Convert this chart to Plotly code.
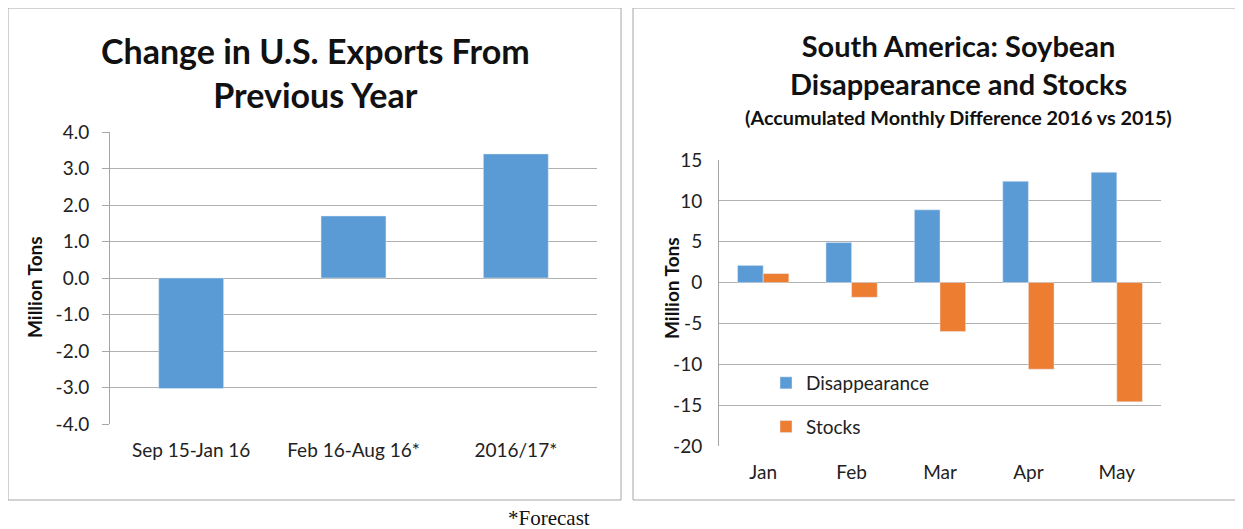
import plotly.graph_objects as go

# Left chart data
export_periods = ["Sep 15-Jan 16", "Feb 16-Aug 16*", "2016/17*"]
export_change = [-3.03, 1.7, 3.4]
left_ticks = [4, 3, 2, 1, 0, -1, -2, -3, -4]
left_tick_labels = ["4.0", "3.0", "2.0", "1.0", "0.0", "-1.0", "-2.0", "-3.0", "-4.0"]

# Right chart data
months = ["Jan", "Feb", "Mar", "Apr", "May"]
disappearance = [2.1, 4.9, 8.9, 12.4, 13.5]
stocks = [1.1, -1.8, -6.0, -10.6, -14.6]
right_ticks = [15, 10, 5, 0, -5, -10, -15, -20]
right_tick_labels = ["15", "10", "5", "0", "-5", "-10", "-15", "-20"]

W, H = 1243, 529
OFF = 8  # page body offset
BLUE = "#5b9bd5"
ORANGE = "#ed7d31"
GRID = "#b0b0b0"
BORDER = "#a6a6a6"
FONT = "Lato, Open Sans, sans-serif"

def px(x):
    return (x - OFF) / W

def py(y):
    return 1 - (y - OFF) / H

fig = go.Figure()

fig.add_trace(go.Bar(x=export_periods, y=export_change, marker_color=BLUE,
                     showlegend=False, xaxis="x", yaxis="y"))
fig.add_trace(go.Bar(x=months, y=disappearance, name="Disappearance", marker_color=BLUE,
                     xaxis="x2", yaxis="y2", legendgroup="a", width=0.29, offset=-0.29))
fig.add_trace(go.Bar(x=months, y=stocks, name="Stocks", marker_color=ORANGE,
                     xaxis="x2", yaxis="y2", legendgroup="b", width=0.29, offset=0.0))

tickfont = dict(size=19, color="#222", family=FONT)

fig.update_layout(
    width=W, height=H,
    margin=dict(l=0, r=0, t=0, b=0, autoexpand=False),
    paper_bgcolor="white", plot_bgcolor="white",
    bargap=0.6, barmode="group",
    font=dict(family=FONT, color="#111"),
    showlegend=True,
    xaxis=dict(domain=[px(110), px(597)], anchor="y", showline=False, showgrid=False,
               tickfont=tickfont, ticks="", ticklabelstandoff=13, automargin=False),
    yaxis=dict(domain=[py(424), py(132)], anchor="x", range=[-4, 4],
               tickmode="array", tickvals=left_ticks, ticktext=left_tick_labels,
               showline=True, linecolor=BORDER, linewidth=1, gridcolor=GRID, zeroline=False,
               ticks="outside", ticklen=7, tickcolor=BORDER, tickfont=tickfont,
               ticklabelstandoff=9, automargin=False),
    xaxis2=dict(domain=[px(719), px(1161)], anchor="y2", showline=False, showgrid=False,
                tickfont=tickfont, ticks="", ticklabelstandoff=13, automargin=False),
    yaxis2=dict(domain=[py(446), py(160)], anchor="x2", range=[-20, 15],
                tickmode="array", tickvals=right_ticks, ticktext=right_tick_labels,
                showline=True, linecolor=BORDER, linewidth=1, gridcolor=GRID, zeroline=False,
                ticks="", tickfont=tickfont, ticklabelstandoff=12, automargin=False),
    legend=dict(x=px(766), y=py(364), xanchor="left", yanchor="top",
                font=dict(size=19, family=FONT, color="#222"), tracegroupgap=16,
                bgcolor="rgba(0,0,0,0)", itemwidth=30),
)

shapes = [
    dict(type="rect", xref="paper", yref="paper", x0=px(8), x1=px(621), y0=py(500), y1=py(8),
         line=dict(color=BORDER, width=1)),
    dict(type="rect", xref="paper", yref="paper", x0=px(633), x1=px(1238), y0=py(500), y1=py(8),
         line=dict(color=BORDER, width=1)),
]
fig.update_layout(shapes=shapes)

annotations = [
    dict(text="<b>Change in U.S. Exports From<br>Previous Year</b>", x=px(315), y=py(73),
         font=dict(size=34, family=FONT, color="#111")),
    dict(text="<b>South America: Soybean<br>Disappearance and Stocks</b>", x=px(958), y=py(64),
         font=dict(size=29, family=FONT, color="#111")),
    dict(text="<b>(Accumulated Monthly Difference 2016 vs 2015)</b>", x=px(958), y=py(117),
         font=dict(size=19.8, family=FONT, color="#111")),
    dict(text="<b>Million Tons</b>", x=px(34), y=py(287), textangle=-90,
         font=dict(size=19, family=FONT, color="#111")),
    dict(text="<b>Million Tons</b>", x=px(671), y=py(288), textangle=-90,
         font=dict(size=19, family=FONT, color="#111")),
    dict(text="*Forecast", x=px(549), y=py(518),
         font=dict(size=21, family="Liberation Serif, serif", color="#111")),
]
for a in annotations:
    a.update(xref="paper", yref="paper", showarrow=False, xanchor="center", yanchor="middle")
fig.update_layout(annotations=annotations)

fig.write_html("out.html")
